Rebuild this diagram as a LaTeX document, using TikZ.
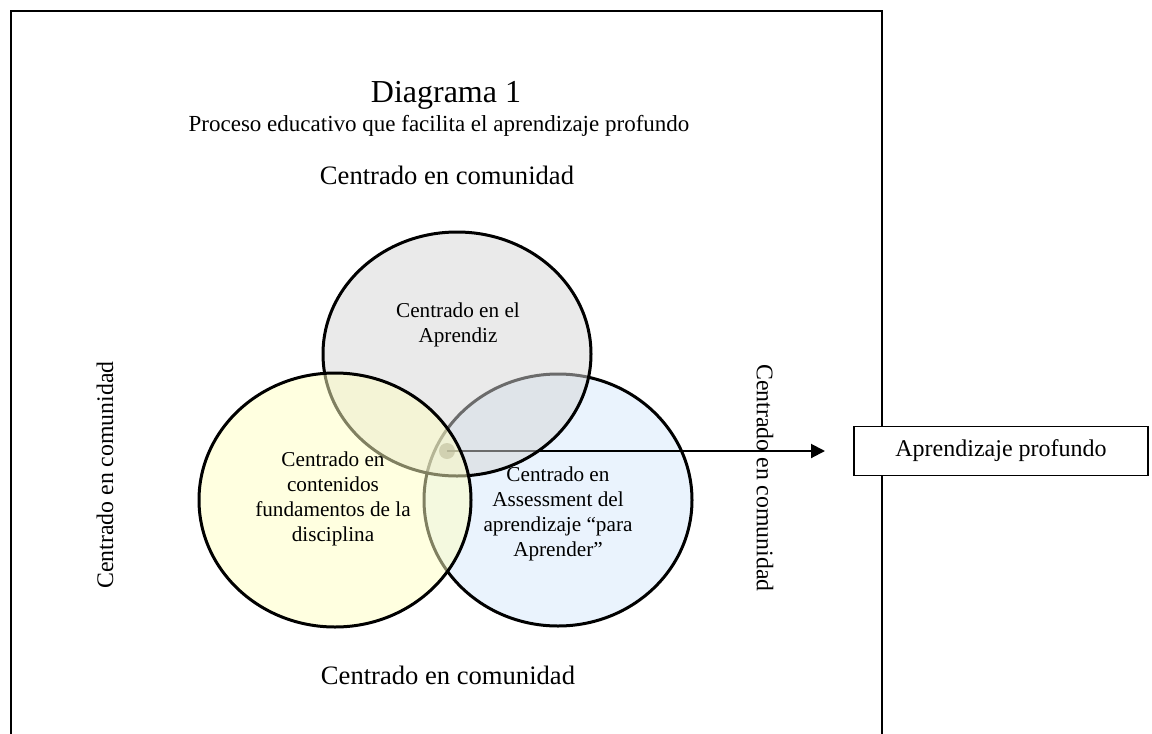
\documentclass[tikz,border=0pt]{standalone}
\usepackage{fontspec}
\setmainfont{Liberation Serif}
\usetikzlibrary{arrows.meta}
\definecolor{aprendizfill}{rgb}{0.84,0.84,0.84}
\definecolor{contenidofill}{rgb}{1,1,0.76}
\definecolor{assessfill}{rgb}{0.835,0.906,0.984}
\definecolor{dotfill}{rgb}{0.45,0.45,0.42}
\begin{document}
\begin{tikzpicture}[x=0.5pt,y=-0.5pt]
\tikzstyle{every node}+=[inner sep=0pt]
\tikzstyle{venn}=[line width=1.5pt, fill opacity=0.5]
\tikzstyle{lbl}=[font=\fontsize{10.6}{12.5}\selectfont, align=center]
\tikzstyle{comunidad}=[font=\fontsize{13.3}{15}\selectfont]
\tikzstyle{comunidadv}=[font=\fontsize{11.9}{14}\selectfont]
\useasboundingbox (0,0) rectangle (1152,734);
\clip (0,0) rectangle (1152,734);
\draw [black, line width=1pt] (11,745) -- (11,11) -- (882,11) -- (882,745);
\draw (446,95) node (titulo) {\fontsize{16}{18}\selectfont Diagrama 1};
\draw (439,126) node (subtitulo) {\fontsize{11.5}{13}\selectfont Proceso educativo que facilita el aprendizaje profundo};
\draw [venn, fill=assessfill] (558,500) ellipse [x radius=134, y radius=126];
\node [circle, fill=dotfill, minimum size=8pt] (punto) at (447,451) {};
\coordinate (flecha) at (825,451);
\draw [black, line width=1pt, -{Triangle[length=7pt,width=7pt]}] (punto.center) -- (flecha);
\draw [venn, fill=aprendizfill] (457,354) ellipse [x radius=134, y radius=122];
\draw [venn, fill=contenidofill] (335,500) ellipse [x radius=136, y radius=127];
\draw (458,325) node [lbl] (aprendiz) {Centrado en el\\Aprendiz};
\draw (333,499) node [lbl] (contenidos) {Centrado en\\contenidos\\fundamentos de la\\disciplina};
\draw (558,514) node [lbl] (assessment) {Centrado en\\Assessment del\\aprendizaje ``para\\Aprender''};
\draw (447,175) node [comunidad] (comarriba) {Centrado en comunidad};
\draw (448,675) node [comunidad] (comabajo) {Centrado en comunidad};
\draw (105,475) node [comunidadv, rotate=90] (comizq) {Centrado en comunidad};
\draw (765,478) node [comunidadv, rotate=-90] (comder) {Centrado en comunidad};
\draw (1001,451) node [draw, line width=0.75pt, fill=white, minimum width=147pt, minimum height=24.5pt, font=\fontsize{12}{14}\selectfont] (profundo) {Aprendizaje profundo};
\end{tikzpicture}
\end{document}
